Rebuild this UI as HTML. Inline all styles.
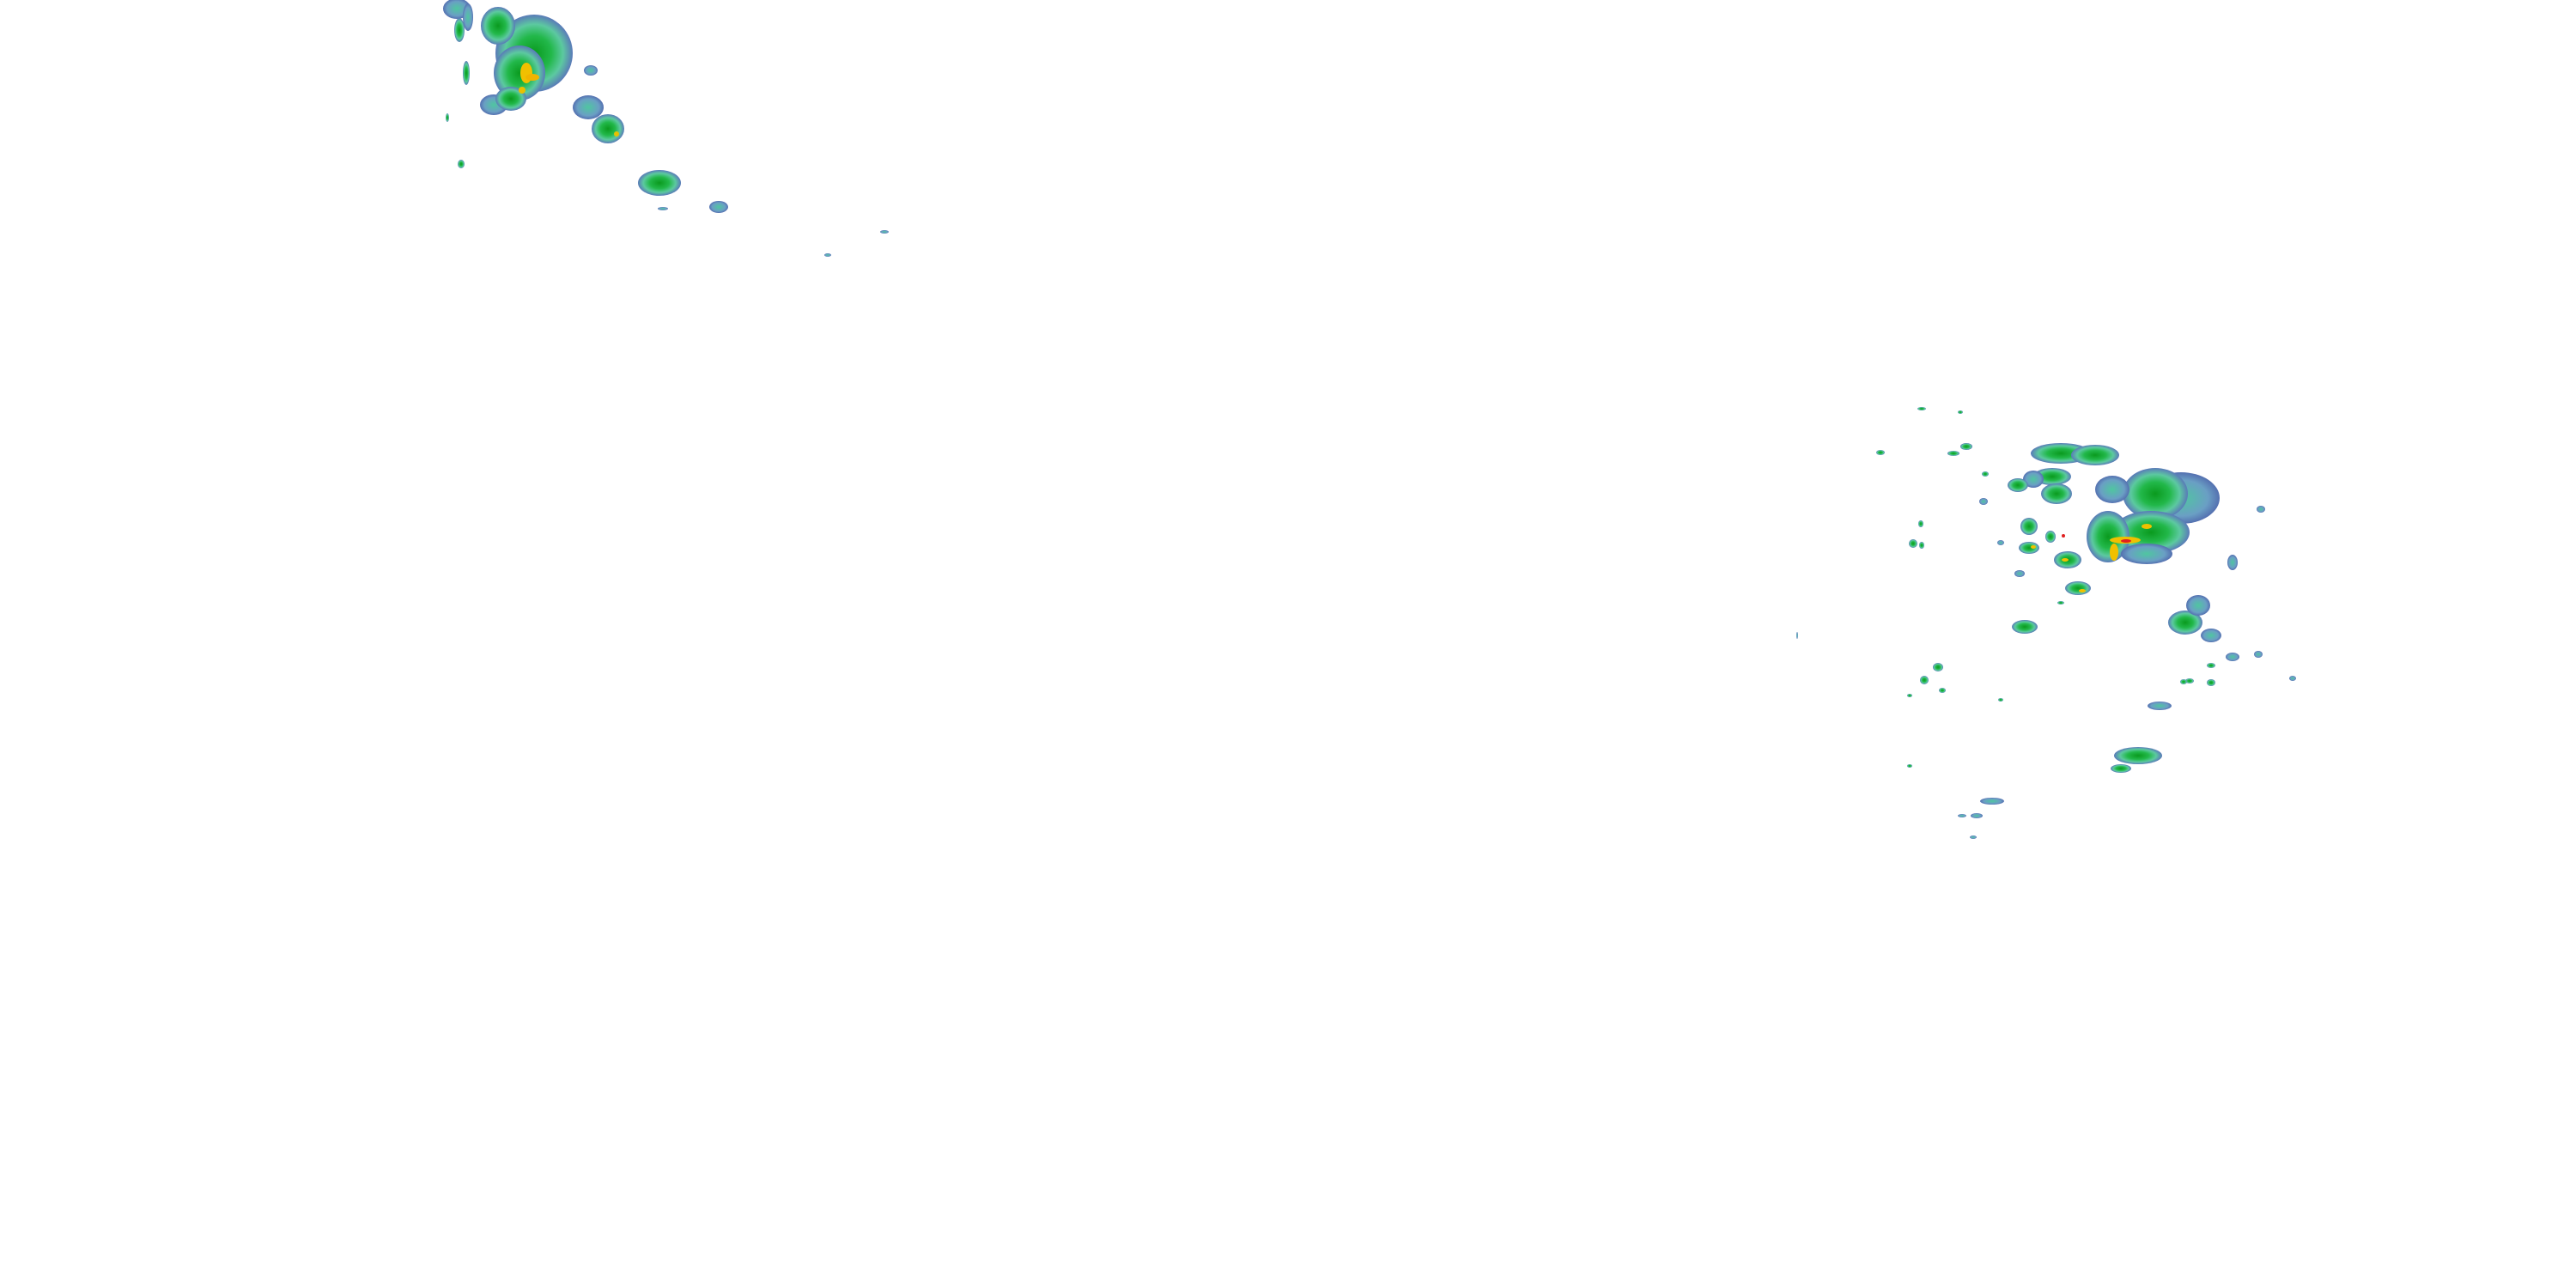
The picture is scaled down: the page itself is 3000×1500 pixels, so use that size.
<!DOCTYPE html>
<html><head><meta charset="utf-8"><style>html,body{margin:0;padding:0;background:#fff}svg{display:block}</style></head>
<body>
<svg width="3000" height="1500" viewBox="0 0 3000 1500" xmlns="http://www.w3.org/2000/svg">
<defs>
<radialGradient id="g" cx="50%" cy="50%" r="50%">
<stop offset="0" stop-color="#0a9a1e"/><stop offset="0.45" stop-color="#22b84a"/><stop offset="0.75" stop-color="#5cc9a0"/><stop offset="1" stop-color="#5a7ab8"/>
</radialGradient>
<radialGradient id="b" cx="50%" cy="50%" r="50%">
<stop offset="0" stop-color="#4fc6a0"/><stop offset="0.7" stop-color="#6a9fc4"/><stop offset="1" stop-color="#5470b0"/>
</radialGradient>
</defs>
<!-- cluster 1 -->
<g>
<ellipse cx="622" cy="62" rx="45" ry="45" fill="url(#g)"/>
<ellipse cx="605" cy="85" rx="30" ry="32" fill="url(#g)"/>
<ellipse cx="575" cy="122" rx="16" ry="12" fill="url(#b)"/>
<ellipse cx="595" cy="115" rx="18" ry="14" fill="url(#g)"/>
<ellipse cx="580" cy="30" rx="20" ry="22" fill="url(#g)"/>
<ellipse cx="532" cy="10" rx="16" ry="12" fill="url(#b)"/>
<ellipse cx="545" cy="20" rx="6" ry="16" fill="url(#b)"/>
<ellipse cx="535" cy="35" rx="6" ry="14" fill="url(#g)"/>
<ellipse cx="543" cy="85" rx="4" ry="14" fill="url(#g)"/>
<ellipse cx="613" cy="85" rx="7" ry="12" fill="#f0c000"/>
<ellipse cx="620" cy="90" rx="8" ry="4" fill="#f0b400"/>
<ellipse cx="608" cy="105" rx="4" ry="4" fill="#e8c000"/>
<ellipse cx="685" cy="125" rx="18" ry="14" fill="url(#b)"/>
<ellipse cx="708" cy="150" rx="19" ry="17" fill="url(#g)"/>
<ellipse cx="718" cy="156" rx="3" ry="3" fill="#e8c000"/>
<ellipse cx="688" cy="82" rx="8" ry="6" fill="url(#b)"/>
<ellipse cx="768" cy="213" rx="25" ry="15" fill="url(#g)"/>
<ellipse cx="837" cy="241" rx="11" ry="7" fill="url(#b)"/>
<ellipse cx="537" cy="191" rx="4" ry="5" fill="url(#g)"/>
<ellipse cx="521" cy="137" rx="2" ry="5" fill="url(#g)"/>
<ellipse cx="772" cy="243" rx="6" ry="2" fill="url(#b)"/>
<ellipse cx="1030" cy="270" rx="5" ry="2" fill="url(#b)"/>
<ellipse cx="964" cy="297" rx="4" ry="2" fill="url(#b)"/>
</g>
<!-- cluster 2 -->
<g>
<ellipse cx="2540" cy="580" rx="45" ry="30" fill="url(#b)"/>
<ellipse cx="2510" cy="575" rx="38" ry="30" fill="url(#g)"/>
<ellipse cx="2505" cy="620" rx="45" ry="25" fill="url(#g)"/>
<ellipse cx="2455" cy="625" rx="25" ry="30" fill="url(#g)"/>
<ellipse cx="2500" cy="645" rx="30" ry="12" fill="url(#b)"/>
<ellipse cx="2475" cy="629" rx="18" ry="4" fill="#f0c000"/>
<ellipse cx="2476" cy="630" rx="6" ry="2" fill="#e02020"/>
<ellipse cx="2462" cy="643" rx="5" ry="10" fill="#f0c000"/>
<ellipse cx="2500" cy="613" rx="6" ry="3" fill="#f0c000"/>
<ellipse cx="2460" cy="570" rx="20" ry="16" fill="url(#b)"/>
<ellipse cx="2400" cy="528" rx="35" ry="12" fill="url(#g)"/>
<ellipse cx="2440" cy="530" rx="28" ry="12" fill="url(#g)"/>
<ellipse cx="2390" cy="555" rx="22" ry="10" fill="url(#g)"/>
<ellipse cx="2395" cy="575" rx="18" ry="12" fill="url(#g)"/>
<ellipse cx="2368" cy="558" rx="12" ry="10" fill="url(#b)"/>
<ellipse cx="2350" cy="565" rx="12" ry="8" fill="url(#g)"/>
<ellipse cx="2363" cy="613" rx="10" ry="10" fill="url(#g)"/>
<ellipse cx="2363" cy="638" rx="12" ry="7" fill="url(#g)"/>
<ellipse cx="2388" cy="625" rx="6" ry="7" fill="url(#g)"/>
<ellipse cx="2408" cy="652" rx="16" ry="10" fill="url(#g)"/>
<ellipse cx="2420" cy="685" rx="15" ry="8" fill="url(#g)"/>
<ellipse cx="2358" cy="730" rx="15" ry="8" fill="url(#g)"/>
<ellipse cx="2545" cy="725" rx="20" ry="14" fill="url(#g)"/>
<ellipse cx="2560" cy="705" rx="14" ry="12" fill="url(#b)"/>
<ellipse cx="2575" cy="740" rx="12" ry="8" fill="url(#b)"/>
<ellipse cx="2490" cy="880" rx="28" ry="10" fill="url(#g)"/>
<ellipse cx="2470" cy="895" rx="12" ry="5" fill="url(#g)"/>
<ellipse cx="2515" cy="822" rx="14" ry="5" fill="url(#b)"/>
<ellipse cx="2320" cy="933" rx="14" ry="4" fill="url(#b)"/>
<ellipse cx="2302" cy="950" rx="7" ry="3" fill="url(#b)"/>
<ellipse cx="2600" cy="655" rx="6" ry="9" fill="url(#b)"/>
<ellipse cx="2633" cy="593" rx="5" ry="4" fill="url(#b)"/>
<ellipse cx="2257" cy="777" rx="6" ry="5" fill="url(#g)"/>
<ellipse cx="2241" cy="792" rx="5" ry="5" fill="url(#g)"/>
<ellipse cx="2228" cy="633" rx="5" ry="5" fill="url(#g)"/>
<ellipse cx="2190" cy="527" rx="5" ry="3" fill="url(#g)"/>
<ellipse cx="2275" cy="528" rx="7" ry="3" fill="url(#g)"/>
<ellipse cx="2290" cy="520" rx="7" ry="4" fill="url(#g)"/>
<ellipse cx="2312" cy="552" rx="4" ry="3" fill="url(#g)"/>
<ellipse cx="2310" cy="584" rx="5" ry="4" fill="url(#b)"/>
<ellipse cx="2238" cy="635" rx="3" ry="4" fill="url(#g)"/>
<ellipse cx="2237" cy="610" rx="3" ry="4" fill="url(#g)"/>
<ellipse cx="2238" cy="476" rx="5" ry="2" fill="url(#g)"/>
<ellipse cx="2283" cy="480" rx="3" ry="2" fill="url(#g)"/>
<ellipse cx="2330" cy="632" rx="4" ry="3" fill="url(#b)"/>
<ellipse cx="2352" cy="668" rx="6" ry="4" fill="url(#b)"/>
<ellipse cx="2400" cy="702" rx="4" ry="2" fill="url(#g)"/>
<ellipse cx="2600" cy="765" rx="8" ry="5" fill="url(#b)"/>
<ellipse cx="2575" cy="775" rx="5" ry="3" fill="url(#g)"/>
<ellipse cx="2575" cy="795" rx="5" ry="4" fill="url(#g)"/>
<ellipse cx="2630" cy="762" rx="5" ry="4" fill="url(#b)"/>
<ellipse cx="2550" cy="793" rx="5" ry="3" fill="url(#g)"/>
<ellipse cx="2543" cy="794" rx="4" ry="3" fill="url(#g)"/>
<ellipse cx="2670" cy="790" rx="4" ry="3" fill="url(#b)"/>
<ellipse cx="2285" cy="950" rx="5" ry="2" fill="url(#b)"/>
<ellipse cx="2298" cy="975" rx="4" ry="2" fill="url(#b)"/>
<ellipse cx="2330" cy="815" rx="3" ry="2" fill="url(#g)"/>
<ellipse cx="2262" cy="804" rx="4" ry="3" fill="url(#g)"/>
<ellipse cx="2224" cy="810" rx="3" ry="2" fill="url(#g)"/>
<ellipse cx="2224" cy="892" rx="3" ry="2" fill="url(#g)"/>
<ellipse cx="2093" cy="740" rx="1" ry="4" fill="url(#b)"/>
<ellipse cx="2403" cy="624" rx="2" ry="2" fill="#e02020"/>
<ellipse cx="2368" cy="637" rx="3" ry="2" fill="#f0c000"/>
<ellipse cx="2425" cy="688" rx="4" ry="2" fill="#f0c000"/>
<ellipse cx="2405" cy="652" rx="4" ry="2" fill="#f0c000"/>
</g>
</svg>
</body></html>
